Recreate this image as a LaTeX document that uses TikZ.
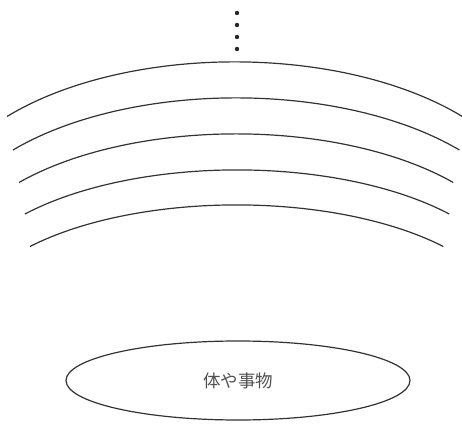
\documentclass[tikz,border=0pt]{standalone}
\usepackage{fontspec}
\newfontfamily\jpfont{Noto Sans CJK JP}
\usepackage{tikz}
\usetikzlibrary{shapes.geometric}
\definecolor{wavegray}{RGB}{50,50,50}
\definecolor{textgray}{RGB}{80,80,80}

\begin{document}
\begin{tikzpicture}[x=1pt,y=1pt]
  \useasboundingbox (0,0) rectangle (462,425);
  % dots above the layers
  \foreach \y [count=\i] in {412,400,388,376}
    \fill[black!85] (237,\y) circle (2.2pt) coordinate (dot\i);
  % layers
  \foreach \x/\y/\a/\b in {7/308.5/300.3/157,13/275/294.4/149.8,19/242.5/286.4/139.7,25/211/279.8/126.7,30/178.5/272.6/119.5}
    \draw[wavegray,line width=1.2pt] (\x,\y) arc[start angle=139.3,end angle=40.7,x radius=\a,y radius=\b];
  \node[ellipse,draw=wavegray,line width=1.2pt,minimum width=344pt,minimum height=79pt,inner sep=0pt,
        text=textgray,font=\jpfont\fontsize{17.5}{17.5}\selectfont] (body) at (238,44.5) {体や事物};
\end{tikzpicture}
\end{document}
